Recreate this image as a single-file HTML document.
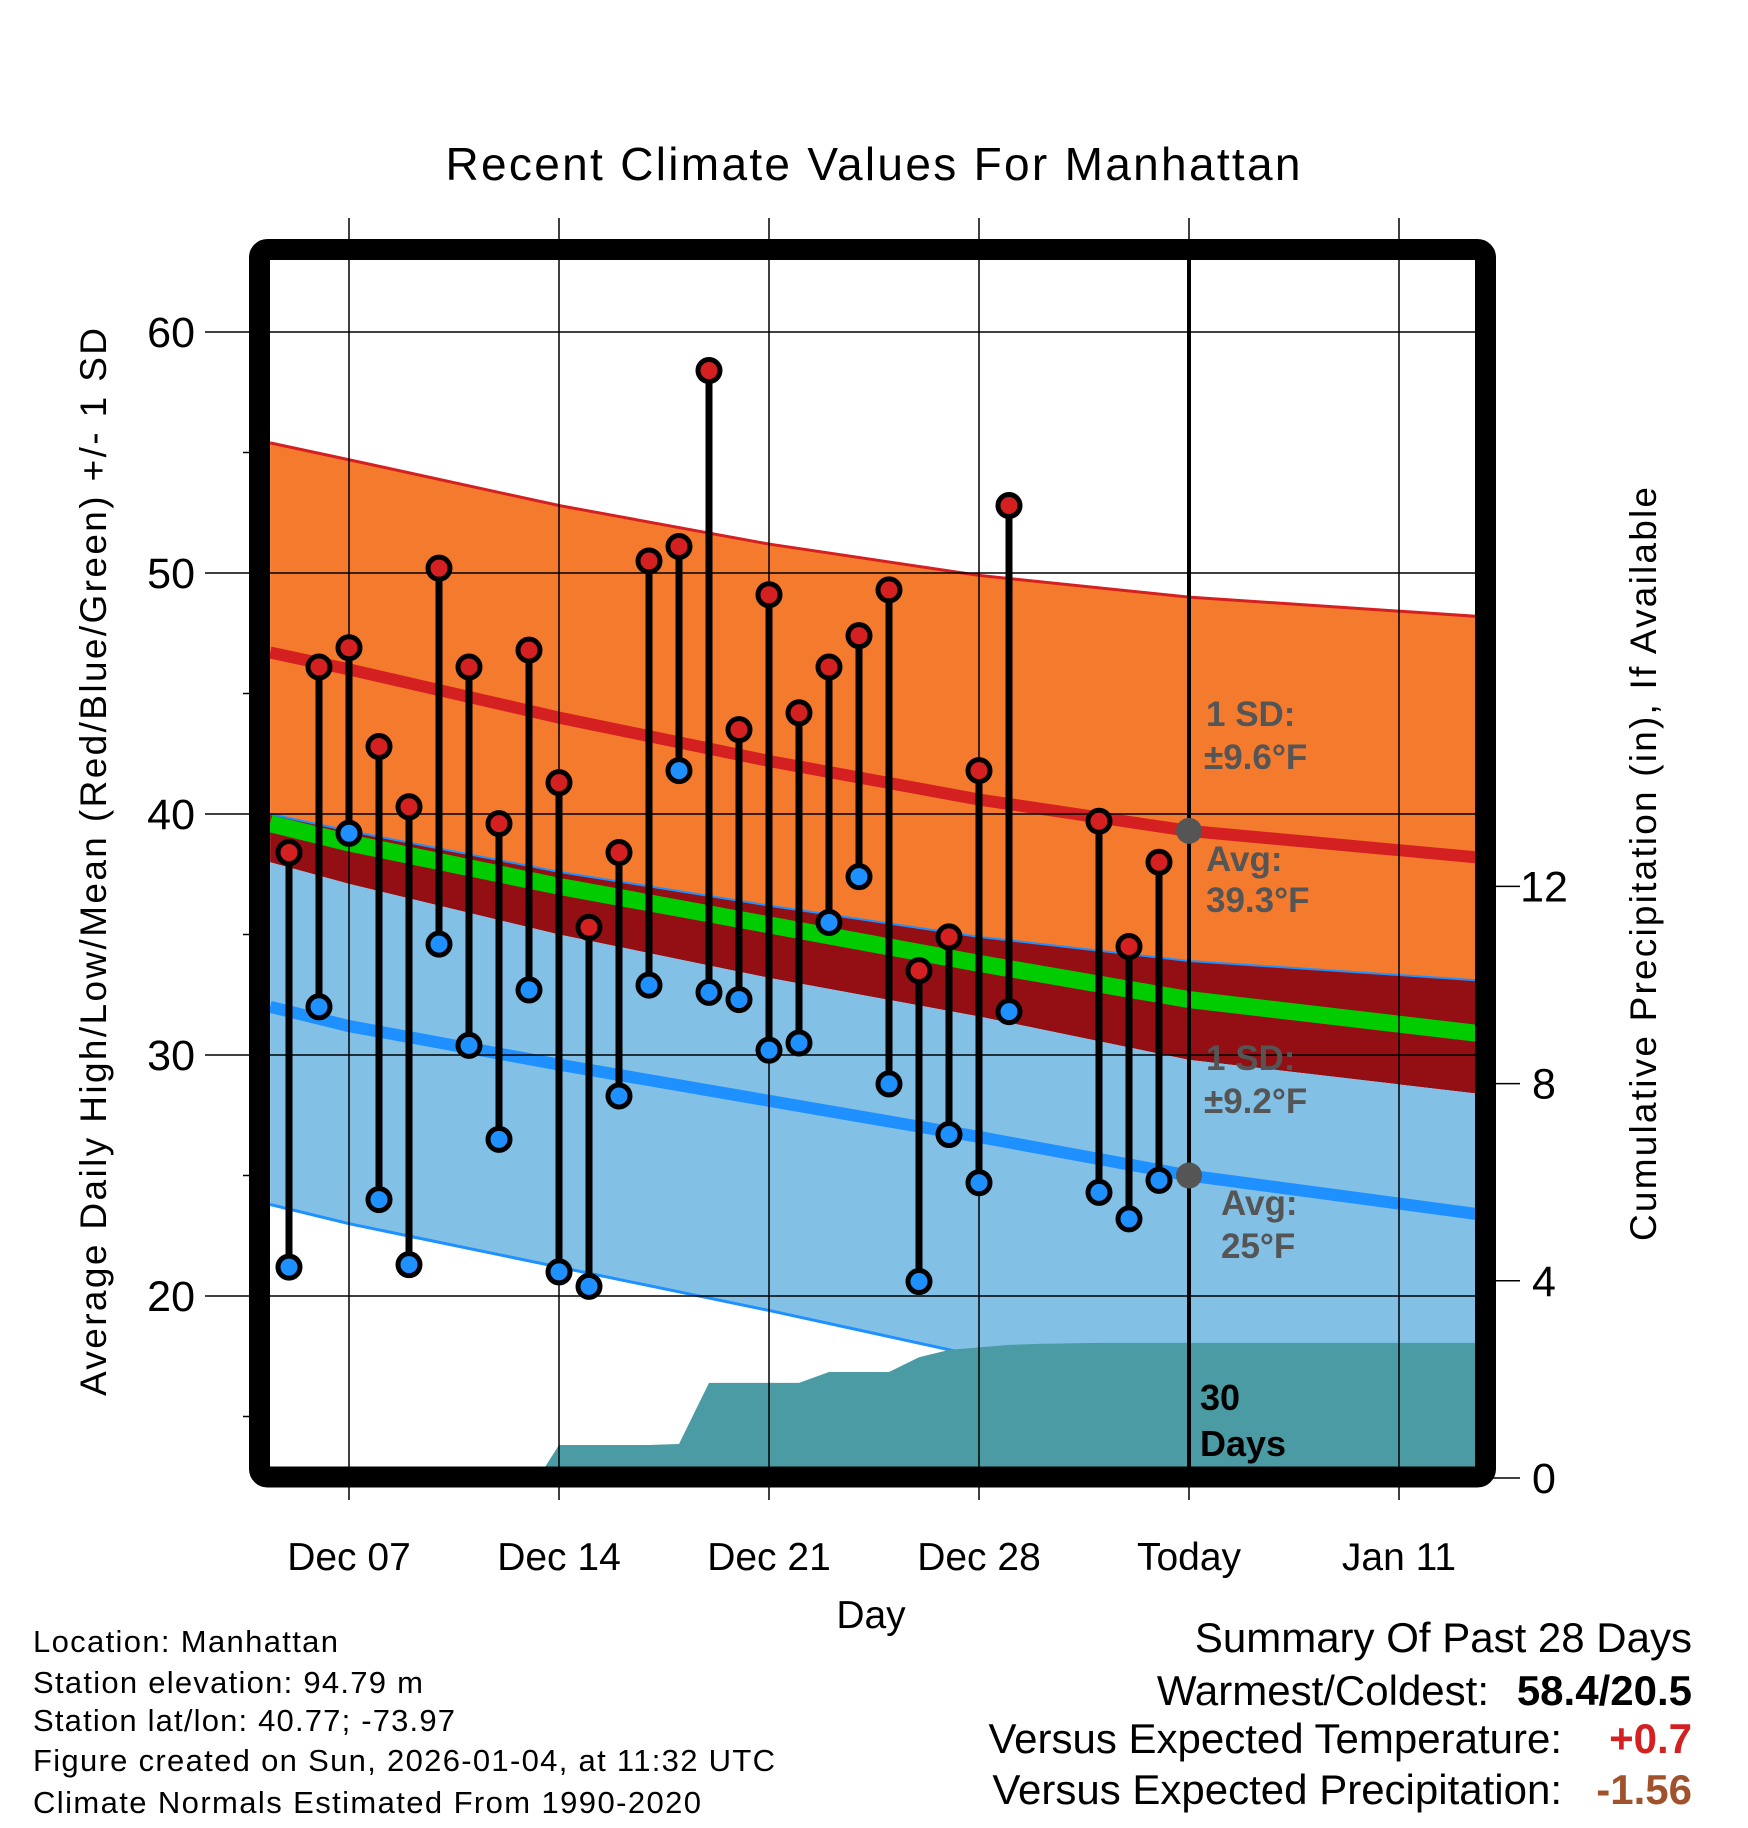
<!DOCTYPE html>
<html><head><meta charset="utf-8"><style>
html,body{margin:0;padding:0;background:#fff;}
svg{display:block;font-family:"Liberation Sans",sans-serif;}
</style></head><body>
<svg id="chart" width="1748" height="1828" viewBox="0 0 1748 1828" xmlns="http://www.w3.org/2000/svg">
<defs><clipPath id="pc"><rect x="270" y="260" width="1206" height="1208"/></clipPath></defs>
<text x="873" y="180" text-anchor="middle" font-size="46" textLength="855">Recent Climate Values For Manhattan</text>
<g id="bands" clip-path="url(#pc)"></g>
<g id="grid"></g>
<g id="marks" clip-path="url(#pc)"></g>
<g id="axes"></g>
<rect x="259.5" y="249.5" width="1226" height="1227.5" rx="8" fill="none" stroke="#000" stroke-width="21"/>
<g font-weight="bold" font-size="35" fill="#555">
<text x="1206" y="726">1 SD:</text>
<text x="1204" y="769">±9.6°F</text>
<text x="1206" y="871">Avg:</text>
<text x="1206" y="912">39.3°F</text>
<text x="1206" y="1070">1 SD:</text>
<text x="1204" y="1113">±9.2°F</text>
<text x="1221" y="1215">Avg:</text>
<text x="1221" y="1258">25°F</text>
</g>
<g font-weight="bold" font-size="36" fill="#000">
<text x="1200" y="1410">30</text>
<text x="1200" y="1456">Days</text>
</g>
<text transform="translate(106,862) rotate(-90)" text-anchor="middle" font-size="37" textLength="1068">Average Daily High/Low/Mean (Red/Blue/Green) +/- 1 SD</text>
<text transform="translate(1656,864) rotate(-90)" text-anchor="middle" font-size="37" textLength="754">Cumulative Precipitation (in), If Available</text>
<text x="871" y="1628" text-anchor="middle" font-size="39">Day</text>
<g font-size="31">
<text x="33" y="1652" textLength="305">Location: Manhattan</text>
<text x="33" y="1693" textLength="390">Station elevation: 94.79 m</text>
<text x="33" y="1731" textLength="422">Station lat/lon: 40.77; -73.97</text>
<text x="33" y="1771" textLength="742">Figure created on Sun, 2026-01-04, at 11:32 UTC</text>
<text x="33" y="1813" textLength="668">Climate Normals Estimated From 1990-2020</text>
</g>
<g font-size="42">
<text x="1692" y="1652" text-anchor="end">Summary Of Past 28 Days</text>
<text x="1489" y="1705" text-anchor="end">Warmest/Coldest:</text>
<text x="1692" y="1705" text-anchor="end" font-weight="bold">58.4/20.5</text>
<text x="1562" y="1753" text-anchor="end">Versus Expected Temperature:</text>
<text x="1692" y="1753" text-anchor="end" font-weight="bold" fill="#d42020">+0.7</text>
<text x="1562" y="1804" text-anchor="end">Versus Expected Precipitation:</text>
<text x="1692" y="1804" text-anchor="end" font-weight="bold" fill="#a0522d">-1.56</text>
</g>
</svg>
<script>
// Data (days counted from Dec 0; Dec 35 = Jan 4)
const obsDays = [5,6,7,8,9,10,11,12,13,14,15,16,17,18,19,20,21,22,23,24,25,26,27,28,29,32,33,34];
const obsHigh = [38.4,46.1,46.9,42.8,40.3,50.2,46.1,39.6,46.8,41.3,35.3,38.4,50.5,51.1,58.4,43.5,49.1,44.2,46.1,47.4,49.3,33.5,34.9,41.8,52.8,39.7,34.5,38.0];
const obsLow = [21.2,32.0,39.2,24.0,21.3,34.6,30.4,26.5,32.7,21.0,20.4,28.3,32.9,41.8,32.6,32.3,30.2,30.5,35.5,37.4,28.8,20.6,26.7,24.7,31.8,24.3,23.2,24.8];
const normDays = [4.37,7,14,21,28,35,44.6];
const highUpper = [55.4,54.7,52.8,51.2,49.9,49.0,48.2];
const highAvg = [46.7,46.0,44.0,42.2,40.6,39.3,38.2];
const highLower = [40.0,39.3,37.6,36.2,34.9,33.9,33.1];
const meanAvg = [39.6,38.8,37.0,35.4,33.8,32.3,30.9];
const lowUpper = [38.0,37.1,35.0,33.2,31.6,29.8,28.4];
const lowAvg = [32.0,31.2,29.6,28.1,26.6,25.0,23.4];
const lowLower = [23.8,23.0,21.2,19.4,17.5,15.8,14.2];
const precipDays = [13.3,14,15,16,17,18,19,20,21,22,23,24,25,26,27,28,29,30,31,32,44.6];
const precipVals = [0,0.67,0.67,0.67,0.67,0.69,1.93,1.93,1.93,1.93,2.15,2.15,2.15,2.45,2.6,2.65,2.7,2.72,2.73,2.74,2.74];
const xTickDays = [7,14,21,28,35,42];
const xTickLabels = ["Dec 07","Dec 14","Dec 21","Dec 28","Today","Jan 11"];
const yTicks = [20,30,40,50,60];
const y2Ticks = [0,4,8,12];
const todayDay = 35;
const todayHigh = 39.3, todayLow = 25.0;

const NS="http://www.w3.org/2000/svg";
const X = d => 349 + (d-7)*30;
const Y = t => 332 + (60-t)*24.1;
const YP = p => 1478 - p*49.3;
function mk(tag, attrs, parent){const e=document.createElementNS(NS,tag);for(const k in attrs)e.setAttribute(k,attrs[k]);parent.appendChild(e);return e;}
const bands=document.getElementById('bands'), grid=document.getElementById('grid'), marks=document.getElementById('marks'), axes=document.getElementById('axes');
function pts(days,vals,f){return days.map((d,i)=>X(d)+','+f(vals[i])).join(' ');}
function band(up,lo,fill,name){
  const p=pts(normDays,up,Y)+' '+normDays.map((d,i)=>X(d)+','+Y(lo[i])).reverse().join(' ');
  const e=mk('polygon',{points:p,fill:fill},bands);
  
  
}
band(highUpper,highLower,'#f47a2e','high-sd-band');
band(highLower,lowUpper,'#930f14','overlap-band');
band(lowUpper,lowLower,'#82c0e6','low-sd-band');
function line(vals,color,w,name){
  const e=mk('polyline',{points:pts(normDays,vals,Y),fill:'none',stroke:color,'stroke-width':w},bands);
  
  
}
line(highUpper,'#d42020',3,'high-upper-line');
line(highLower,'#1e90ff',2,'high-lower-line');
line(lowLower,'#1e90ff',3,'low-lower-line');
line(meanAvg,'#00cc00',17,'mean-line');
line(highAvg,'#d42020',12,'high-avg-line');
line(lowAvg,'#1e90ff',12,'low-avg-line');
{
  const p=precipDays.map((d,i)=>X(d)+','+YP(precipVals[i])).join(' ')+' '+X(precipDays[precipDays.length-1])+',1480 '+X(precipDays[0])+',1480';
  const e=mk('polygon',{points:p,fill:'#4a9ba4'},bands);
  
  
}
yTicks.forEach(t=>{
  const e=mk('line',{x1:205,x2:1476,y1:Y(t),y2:Y(t),stroke:'#000','stroke-width':1.5},grid);
  
  
  const l=mk('text',{x:195,y:Y(t)+15,'text-anchor':'end','font-size':43},axes);l.textContent=t;
  
  
});
[15,25,35,45,55].forEach(t=>{
  const e=mk('line',{x1:243,x2:260,y1:Y(t),y2:Y(t),stroke:'#000','stroke-width':1.5},grid);
  
  
});
xTickDays.forEach((d,i)=>{
  const e=mk('line',{x1:X(d),x2:X(d),y1:218,y2:1500,stroke:'#000','stroke-width':1.5},grid);
  
  
  const l=mk('text',{x:X(d),y:1570,'text-anchor':'middle','font-size':39},axes);l.textContent=xTickLabels[i];
  
  
});
y2Ticks.forEach(t=>{
  const e=mk('line',{x1:1486,x2:1520,y1:YP(t),y2:YP(t),stroke:'#000','stroke-width':1.5},axes);
  
  
  const l=mk('text',{x:1544,y:YP(t)+15,'text-anchor':'middle','font-size':43},axes);l.textContent=t;
  
  
});
obsDays.forEach((d,i)=>{
  const b=mk('line',{x1:X(d),x2:X(d),y1:Y(obsHigh[i]),y2:Y(obsLow[i]),stroke:'#000','stroke-width':7},marks);
  
  
});
obsDays.forEach((d,i)=>{
  const h=mk('circle',{cx:X(d),cy:Y(obsHigh[i]),r:11,fill:'#d42020',stroke:'#000','stroke-width':5},marks);
  
  
  const l=mk('circle',{cx:X(d),cy:Y(obsLow[i]),r:11,fill:'#1e90ff',stroke:'#000','stroke-width':5},marks);
  
  
});
{
  const t=mk('line',{x1:X(todayDay),x2:X(todayDay),y1:260,y2:1468,stroke:'#000','stroke-width':4},marks);
  
  
  const a=mk('circle',{cx:X(todayDay),cy:Y(todayHigh),r:13,fill:'#555'},marks);
  
  
  const b=mk('circle',{cx:X(todayDay),cy:Y(todayLow),r:13,fill:'#555'},marks);
  
  
}
</script>
</body></html>
